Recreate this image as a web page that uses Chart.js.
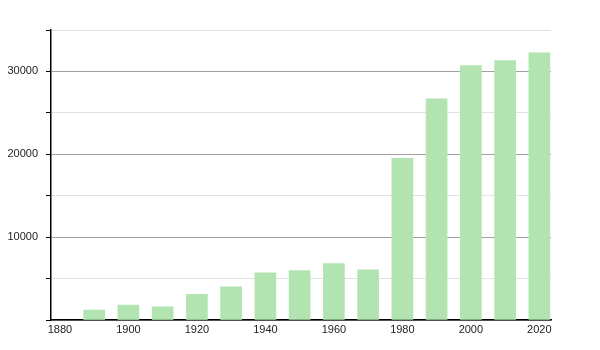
<!DOCTYPE html>
<html>
<head>
<meta charset="utf-8">
<script src="https://cdn.jsdelivr.net/npm/chart.js@4.4.0/dist/chart.umd.min.js"></script>
<style>
  html, body { margin: 0; padding: 0; background: #fff; }
  #wrap { width: 600px; height: 350px; }
</style>
</head>
<body>
<div id="wrap"><canvas id="myChart"></canvas></div>
<script>
// population by census year
const years = [1890, 1900, 1910, 1920, 1930, 1940, 1950, 1960, 1970, 1980, 1990, 2000, 2010, 2020]
const population = [1200, 1800, 1600, 3100, 4000, 5700, 5950, 6800, 6050, 19500, 26700, 30700, 31300, 32250]
const xTicks = [1880, 1900, 1920, 1940, 1960, 1980, 2000, 2020]
const yLabels = [10000, 20000, 30000]

const ctx = document.getElementById('myChart').getContext('2d')
const chart = new Chart(ctx, {
    type: 'bar',
    data: {
        datasets: [{
            label: 'Population',
            data: years.map((y, i) => ({x: y, y: population[i]})),
            backgroundColor: '#b1e4b0',
            borderWidth: 0,
            barThickness: 21
        }]
    },
    options: {
        responsive: true,
        maintainAspectRatio: false,
        animation: false,
        layout: {padding: {left: 0, right: 49, top: 30, bottom: 0}},
        plugins: {legend: {display: false}, tooltip: {enabled: false}},
        scales: {
            x: {
                type: 'linear',
                offset: false,
                min: 1877.4,
                max: 2023.4,
                afterBuildTicks: (scale) => { scale.ticks = xTicks.map(v => ({value: v})) },
                afterFit: (scale) => { scale.height = 30 },
                grid: {display: false, drawTicks: false, offset: false},
                border: {display: true, color: '#000', width: 1.5},
                ticks: {
                    autoSkip: false,
                    maxRotation: 0,
                    padding: 3,
                    color: '#222',
                    font: {family: 'Liberation Sans', size: 11},
                    callback: (v) => String(v)
                }
            },
            y: {
                min: 0,
                max: 35000,
                afterFit: (scale) => { scale.width = 51 },
                grid: {
                    color: (c) => c.tick && c.tick.value % 10000 === 0 ? '#a0a0a0' : '#e2e2e2',
                    tickColor: '#000',
                    tickLength: 5
                },
                border: {display: true, color: '#000', width: 1.5},
                ticks: {
                    stepSize: 5000,
                    padding: 8,
                    color: '#222',
                    font: {family: 'Liberation Sans', size: 11},
                    callback: (v) => yLabels.includes(v) ? String(v) : ''
                }
            }
        }
    }
})
</script>
</body>
</html>
